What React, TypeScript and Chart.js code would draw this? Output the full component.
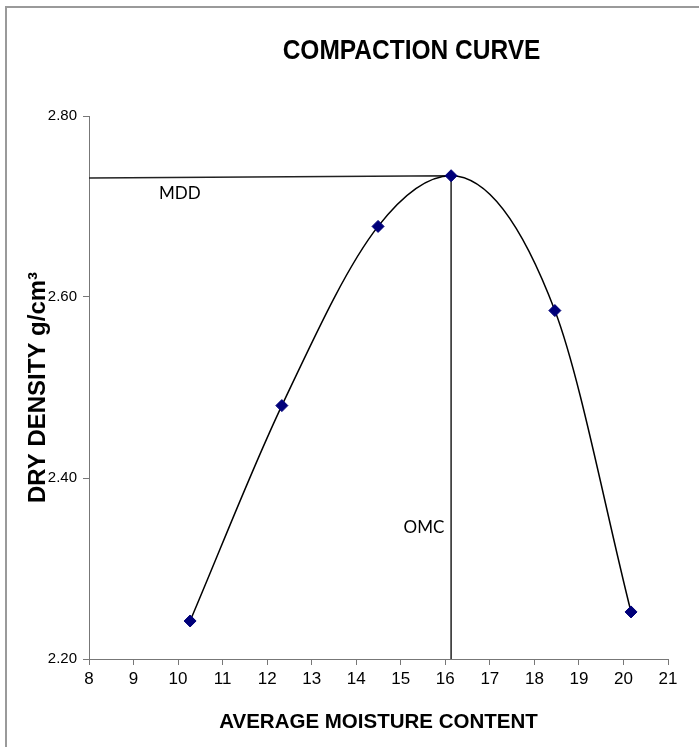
import React, { useEffect, useRef } from "react";
import { Chart, registerables } from "chart.js";

Chart.register(...registerables);

// ---- data ----
const moistureContent = [10.27, 12.33, 14.49, 16.13, 18.46, 20.17];
const dryDensity = [2.242, 2.48, 2.678, 2.734, 2.585, 2.252];

// guide lines: MDD (horizontal) then OMC (vertical)
const guideX = [8, 16.13, 16.13];
const guideY = [2.7315, 2.734, 2.2];

const xRange = [8, 21];
const xStep = 1;
const yRange = [2.2, 2.8];
const yStep = 0.2;

const chartTitle = "COMPACTION CURVE";
const xAxisTitle = "AVERAGE MOISTURE CONTENT";
const yAxisTitle = "DRY DENSITY g/cm³";

const noteLabels = ["MDD", "OMC"];
const noteX = [10.04, 15.52];
const noteY = [2.714, 2.345];

const SANS = '"Liberation Sans", Arial, sans-serif';
const NOTE_FONT = 'Lato, "Open Sans", "Liberation Sans", sans-serif';

const decorPlugin = {
  id: "decor",
  beforeDraw(chart: any) {
    const { ctx, width, height } = chart;
    ctx.save();
    ctx.fillStyle = "#ffffff";
    ctx.fillRect(0, 0, width, height);
    ctx.strokeStyle = "#9a9a9a";
    ctx.lineWidth = 2;
    ctx.beginPath();
    ctx.moveTo(6, height);
    ctx.lineTo(6, 7);
    ctx.lineTo(width, 7);
    ctx.stroke();
    ctx.restore();
  },
  afterDatasetsDraw(chart: any) {
    const { ctx, chartArea, scales } = chart;
    ctx.save();
    // chart title (condensed look, like the reference)
    ctx.fillStyle = "#000";
    ctx.font = `bold 28px ${SANS}`;
    ctx.textAlign = "center";
    ctx.textBaseline = "middle";
    const cx = (chartArea.left + chartArea.right) / 2 + 33;
    ctx.translate(cx, 51);
    ctx.scale(0.875, 1);
    ctx.fillText(chartTitle, 0, 0);
    ctx.setTransform(1, 0, 0, 1, 0, 0);
    // notes
    ctx.font = `17px ${NOTE_FONT}`;
    noteLabels.forEach((t, i) => {
      ctx.fillText(t, scales.x.getPixelForValue(noteX[i]), scales.y.getPixelForValue(noteY[i]));
    });
    ctx.restore();
  },
};

export default function App() {
  const ref = useRef<HTMLCanvasElement | null>(null);

  useEffect(() => {
    const prevMargin = document.body.style.margin;
    document.body.style.margin = "0";
    const canvas = ref.current;
    if (!canvas) return;

    const curve = moistureContent.map((x, i) => ({ x, y: dryDensity[i] }));
    const guides = guideX.map((x, i) => ({ x, y: guideY[i] }));

    const chart = new Chart(canvas, {
      type: "scatter",
      data: {
        datasets: [
          {
            label: "Compaction",
            data: curve,
            showLine: true,
            borderColor: "#000000",
            borderWidth: 1.5,
            cubicInterpolationMode: "monotone",
            pointStyle: "rectRot",
            pointRadius: 6,
            pointBackgroundColor: "#00007a",
            pointBorderColor: "#00007a",
            pointBorderWidth: 1,
          },
          {
            label: "Guides",
            data: guides,
            showLine: true,
            borderColor: "#222222",
            borderWidth: 1.5,
            tension: 0,
            pointRadius: 0,
            clip: false as any,
          },
        ],
      },
      options: {
        responsive: false,
        animation: false,
        events: [],
        layout: { padding: { top: 116, right: 31, bottom: 0, left: 0 } },
        plugins: {
          legend: { display: false },
          tooltip: { enabled: false },
          title: { display: false },
        },
        scales: {
          x: {
            type: "linear",
            min: xRange[0],
            max: xRange[1],
            ticks: {
              stepSize: xStep,
              color: "#000",
              font: { family: SANS, size: 17 },
              padding: 4,
            },
            grid: { drawOnChartArea: false, drawTicks: true, tickLength: 6, color: "#777" },
            border: { display: true, color: "#777", width: 1 },
            title: {
              display: true,
              text: xAxisTitle,
              color: "#000",
              font: { family: SANS, size: 20.5, weight: "bold", lineHeight: 1.2 },
              padding: { top: 0, bottom: 12.7 },
            },
            afterFit(scale: any) {
              scale.height = 88;
            },
          },
          y: {
            type: "linear",
            min: yRange[0],
            max: yRange[1],
            ticks: {
              stepSize: yStep,
              color: "#000",
              font: { family: SANS, size: 15 },
              padding: 6,
              callback: (v: any) => Number(v).toFixed(2),
            },
            grid: { drawOnChartArea: false, drawTicks: true, tickLength: 6, color: "#777" },
            border: { display: true, color: "#777", width: 1 },
            title: {
              display: true,
              text: yAxisTitle,
              color: "#000",
              font: { family: SANS, size: 24, weight: "bold", lineHeight: 1.2 },
              padding: { top: 23.5, bottom: 0 },
            },
            afterFit(scale: any) {
              scale.width = 89;
            },
          },
        },
      } as any,
      plugins: [decorPlugin],
    });

    return () => {
      chart.destroy();
      document.body.style.margin = prevMargin;
    };
  }, []);

  return (
    <div style={{ width: 699, height: 747 }}>
      <canvas ref={ref} width={699} height={747} style={{ display: "block" }} />
    </div>
  );
}
